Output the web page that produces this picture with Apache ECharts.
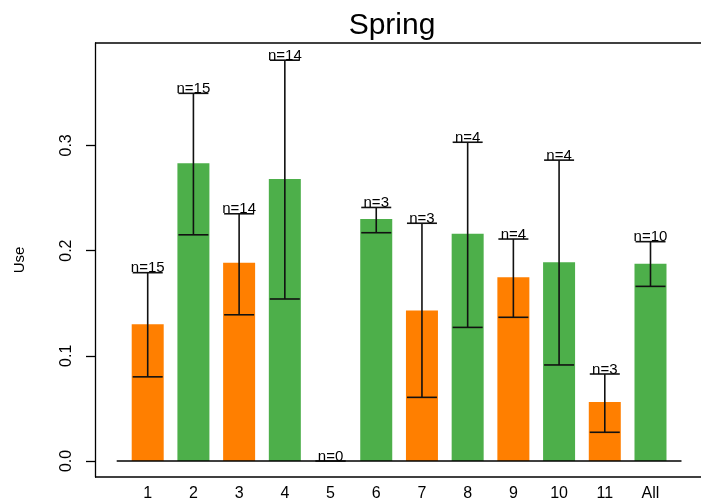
<!DOCTYPE html>
<html>
<head>
<meta charset="utf-8">
<script src="https://cdn.jsdelivr.net/npm/echarts@6/dist/echarts.min.js"></script>
<style>html,body{margin:0;padding:0;background:#fff}#c{width:701px;height:503px}</style>
</head>
<body>
<div id="c"></div>
<script>
var categories = ['1','2','3','4','5','6','7','8','9','10','11','All'];
var means  = [0.130, 0.283, 0.1885, 0.268, 0, 0.230, 0.143, 0.216, 0.1746, 0.189, 0.056, 0.1876];
var lower  = [0.080, 0.215, 0.139, 0.154, 0, 0.217, 0.0605, 0.127, 0.1366, 0.0913, 0.0273, 0.166];
var upper  = [0.179, 0.3495, 0.235, 0.381, 0, 0.241, 0.226, 0.303, 0.211, 0.286, 0.0827, 0.2085];
var counts = [15, 15, 14, 14, 0, 3, 3, 4, 4, 4, 3, 10];
var groups = [0, 1, 0, 1, 1, 1, 0, 1, 0, 1, 0, 1];
var yTickStep = 0.1;
var titleText = 'Spring';
var yName = 'Use';

var palette = ['#FF7F00', '#4DAF4A'];
var FONT = 'Liberation Sans, Arial, sans-serif';

var Y_MIN = -16 / 1052, Y_MAX = 418 / 1052;

var chart = echarts.init(document.getElementById('c'), null, {renderer: 'canvas'});

var barData = means.map(function (v, i) {
  return {value: v, itemStyle: {color: palette[groups[i]]}};
});
var errData = means.map(function (v, i) {
  return [i, lower[i], upper[i], counts[i]];
});

var frameStyle = {stroke: '#000', lineWidth: 1.3};

var option = {
  animation: false,
  backgroundColor: '#fff',
  title: {
    text: titleText, left: 387, top: 6, textAlign: 'center',
    textStyle: {fontFamily: FONT, fontSize: 30, fontWeight: 'normal', color: '#000'}
  },
  grid: [
    {left: 124.85, right: 27.65, top: 43, bottom: 26, containLabel: false},
    {left: 95, right: 27.65, top: 43, bottom: 42, containLabel: false}
  ],
  xAxis: [
    {
      type: 'category', data: categories, gridIndex: 0,
      axisLine: {show: false}, axisTick: {show: false},
      axisLabel: {fontFamily: FONT, fontSize: 16, color: '#000', margin: 9, interval: 0}
    },
    {type: 'value', gridIndex: 1, show: false, min: 0, max: 1}
  ],
  yAxis: [
    {
      type: 'value', gridIndex: 0, min: Y_MIN, max: Y_MAX, offset: 29.85,
      splitLine: {show: false},
      axisLine: {show: true, lineStyle: {color: '#000', width: 1.3}},
      axisTick: {show: false},
      axisLabel: {show: false},
      name: yName, nameLocation: 'middle', nameRotate: 90, nameGap: 68,
      nameTextStyle: {fontFamily: FONT, fontSize: 15, color: '#000'}
    },
    {
      type: 'value', gridIndex: 1, min: 0, max: Y_MAX, interval: yTickStep,
      splitLine: {show: false},
      axisLine: {show: false},
      axisTick: {show: true, length: 9, lineStyle: {color: '#000', width: 1.3}},
      axisLabel: {
        rotate: 90, fontFamily: FONT, fontSize: 16, color: '#000', margin: 20,
        showMaxLabel: false,
        formatter: function (v) { return v.toFixed(1); }
      }
    }
  ],
  graphic: [
    {type: 'line', silent: true, shape: {x1: 95, y1: 43, x2: 701, y2: 43}, style: frameStyle},
    {type: 'line', silent: true, shape: {x1: 95, y1: 477, x2: 701, y2: 477}, style: frameStyle}
  ],
  series: [
    {
      type: 'bar', data: barData, barWidth: 32, z: 2
    },
    {
      type: 'custom', z: 3, clip: false,
      data: [[0, 0]],
      renderItem: function (params, api) {
        var a = api.coord([0, 0]);
        var b = api.coord([categories.length - 1, 0]);
        return {
          type: 'line',
          shape: {x1: a[0] - 31, y1: a[1], x2: b[0] + 31, y2: b[1]},
          style: {stroke: '#000', lineWidth: 1.3}
        };
      }
    },
    {
      type: 'custom', z: 4, clip: false,
      data: errData,
      renderItem: function (params, api) {
        var x = api.value(0);
        var lo = api.coord([x, api.value(1)]);
        var hi = api.coord([x, api.value(2)]);
        var n = api.value(3);
        var hw = 15;
        var st = {stroke: '#111', lineWidth: 1.6};
        return {
          type: 'group',
          children: [
            {type: 'line', shape: {x1: lo[0], y1: lo[1], x2: hi[0], y2: hi[1]}, style: st},
            {type: 'line', shape: {x1: lo[0] - hw, y1: lo[1], x2: lo[0] + hw, y2: lo[1]}, style: st},
            {type: 'line', shape: {x1: hi[0] - hw, y1: hi[1], x2: hi[0] + hw, y2: hi[1]}, style: st},
            {type: 'text', x: hi[0], y: hi[1] + 3,
              style: {text: 'n=' + n, fill: '#000', font: '15px ' + FONT,
                textAlign: 'center', textVerticalAlign: 'bottom'}}
          ]
        };
      }
    }
  ]
};
chart.setOption(option);
</script>
</body>
</html>
